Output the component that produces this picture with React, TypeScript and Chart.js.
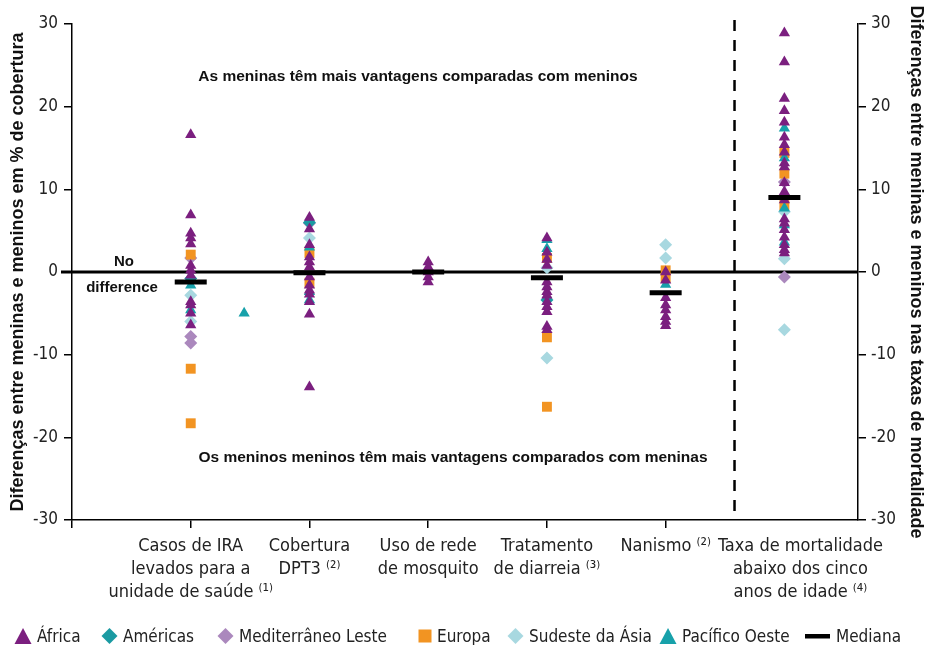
import React, { useEffect, useRef } from 'react';
import { Chart, registerables } from 'chart.js';
Chart.register(...registerables);

const categories: string[][] = [
  ['Casos de IRA', 'levados para a', 'unidade de saúde ⁽¹⁾'],
  ['Cobertura', 'DPT3 ⁽²⁾'],
  ['Uso de rede', 'de mosquito'],
  ['Tratamento', 'de diarreia ⁽³⁾'],
  ['Nanismo ⁽²⁾'],
  ['Taxa de mortalidade', 'abaixo dos cinco', 'anos de idade ⁽⁴⁾'],
];
const yTicks = [-30, -20, -10, 0, 10, 20, 30];

// values per category (index 0..5)
const africa: number[][] = [
  [16.6, 6.9, 4.7, 4.1, 3.4, 0.8, 0.2, -0.4, -3.6, -4.0, -5.0, -6.4],
  [6.6, 5.2, 3.3, 1.8, 1.2, 0.6, -0.6, -1.6, -2.2, -2.7, -3.6, -5.1, -13.9],
  [1.2, 0.6, 0, -0.6, -1.2],
  [4.1, 2.4, 1.5, 0.8, -1.2, -1.8, -2.4, -2.8, -3.6, -4.2, -4.8, -6.6, -7.0],
  [0, -1.0, -3.1, -4.0, -4.6, -5.4, -6.0, -6.5],
  [28.9, 25.4, 21.0, 19.5, 18.1, 16.3, 15.4, 14.5, 13.2, 12.7, 10.8, 9.7, 8.7, 6.4, 5.9, 5.1, 4.2, 3.3, 2.7, 2.3],
];
const americas: number[][] = [[-0.8], [6.0], [], [-3.4], [], []];
const mediterraneo: number[][] = [[1.7, -7.8, -8.6], [5.9], [], [], [], [10.9, -0.6]];
const europa: number[][] = [[2.1, -11.7, -18.3], [2.3, -1.3], [], [1.7, -7.9, -16.3], [0.2, -0.7], [14.4, 11.9, 8.1]];
const sudeste: number[][] = [[-2.8, -6.0], [4.1], [], [0.5, -10.4], [3.3, 1.7], [7.3, 1.6, -7.0]];
const pacifico: number[][] = [[-1.6, -4.6], [3.0, -2.4, -3.4], [], [3.9, 2.8], [-1.5], [17.4, 13.8, 7.7, 5.7, 3.6]];
const pacificoExtraX = [1.45];
const pacificoExtraY = [-5.0];
const medians = [-1.2, -0.1, 0, -0.7, -2.5, 9.0];

const COLORS = {
  africa: '#7b1f7f',
  americas: '#1a9aa2',
  med: '#ab88bd',
  europa: '#f29422',
  sudeste: '#a8d8e0',
  pacifico: '#17a1aa',
};

const FONT = "'Liberation Sans Narrow', 'DejaVu Sans Condensed', 'Liberation Sans', Arial, sans-serif";
const BOLD = "'Liberation Sans', Arial, sans-serif";

const toPts = (arr: number[][]) => arr.flatMap((vals, i) => vals.map((v) => ({ x: i + 1, y: v })));

// x positions of the category-axis ticks; the last label sits a little right of its column
const xTickValues = [0, 1, 2, 3, 4, 5, 6.135];

const legendItems = [
  { label: 'África', color: COLORS.africa, shape: 'tri', left: 14 },
  { label: 'Américas', color: COLORS.americas, shape: 'dia', left: 101 },
  { label: 'Mediterrâneo Leste', color: COLORS.med, shape: 'dia', left: 217 },
  { label: 'Europa', color: COLORS.europa, shape: 'sq', left: 418 },
  { label: 'Sudeste da Ásia', color: COLORS.sudeste, shape: 'dia', left: 507 },
  { label: 'Pacífico Oeste', color: COLORS.pacifico, shape: 'tri', left: 659 },
  { label: 'Mediana', color: '#000', shape: 'line', left: 805 },
];

function Marker({ shape, color }: { shape: string; color: string }) {
  if (shape === 'tri') return <svg width="18" height="18"><polygon points="9,1 17.5,17 0.5,17" fill={color} /></svg>;
  if (shape === 'dia') return <svg width="17" height="18"><polygon points="8.5,1 16.5,9 8.5,17 0.5,9" fill={color} /></svg>;
  if (shape === 'sq') return <svg width="14" height="18"><rect x="0.5" y="2.5" width="13" height="13" fill={color} /></svg>;
  return <svg width="26" height="18"><rect x="0" y="7" width="25" height="4.5" fill={color} /></svg>;
}

const overlayPlugin = {
  id: 'overlay',
  beforeDatasetsDraw(chart: any) {
    const { ctx, chartArea, scales } = chart;
    const y0 = scales.y.getPixelForValue(0);
    ctx.save();
    ctx.strokeStyle = '#000';
    ctx.lineWidth = 3;
    ctx.beginPath();
    ctx.moveTo(61, y0);
    ctx.lineTo(chartArea.right, y0);
    ctx.stroke();
    const xd = scales.x.getPixelForValue(5.58);
    ctx.lineWidth = 2.5;
    ctx.setLineDash([11, 9]);
    ctx.beginPath();
    ctx.moveTo(xd, chartArea.top - 4);
    ctx.lineTo(xd, chartArea.bottom);
    ctx.stroke();
    ctx.restore();
  },
  afterDraw(chart: any) {
    const { ctx, scales } = chart;
    ctx.save();
    ctx.fillStyle = '#111';
    ctx.font = `bold 15.5px ${BOLD}`;
    ctx.textAlign = 'center';
    ctx.textBaseline = 'middle';
    ctx.fillText('As meninas têm mais vantagens comparadas com meninos', 418, scales.y.getPixelForValue(23.6));
    ctx.fillText('Os meninos meninos têm mais vantagens comparados com meninas', 453, scales.y.getPixelForValue(-22.5));
    ctx.font = `bold 15px ${BOLD}`;
    ctx.fillText('No', 124, scales.y.getPixelForValue(1.2));
    ctx.fillText('difference', 122, scales.y.getPixelForValue(-1.9));
    ctx.restore();
  },
};

export default function App() {
  const ref = useRef<HTMLCanvasElement | null>(null);
  useEffect(() => {
    document.body.style.margin = '0';
    const canvas = ref.current!;
    const ptBase = { borderWidth: 0, pointHoverRadius: 7, showLine: false };
    const chart = new Chart(canvas, {
      type: 'scatter',
      data: {
        datasets: [
          { label: 'Mediana', data: medians.map((m, i) => ({ x: i + 1, y: m })), pointStyle: 'line', radius: 16, borderWidth: 5, borderColor: '#000', backgroundColor: '#000', showLine: false } as any,
          { label: 'África', data: toPts(africa), pointStyle: 'triangle', radius: 6.5, backgroundColor: COLORS.africa, borderColor: COLORS.africa, ...ptBase },
          { label: 'Pacífico Oeste', data: [...toPts(pacifico), ...pacificoExtraX.map((x, i) => ({ x, y: pacificoExtraY[i] }))], pointStyle: 'triangle', radius: 6.5, backgroundColor: COLORS.pacifico, borderColor: COLORS.pacifico, ...ptBase },
          { label: 'Américas', data: toPts(americas), pointStyle: 'rectRot', radius: 6.5, backgroundColor: COLORS.americas, borderColor: COLORS.americas, ...ptBase },
          { label: 'Europa', data: toPts(europa), pointStyle: 'rect', radius: 7, backgroundColor: COLORS.europa, borderColor: COLORS.europa, ...ptBase },
          { label: 'Mediterrâneo Leste', data: toPts(mediterraneo), pointStyle: 'rectRot', radius: 6.5, backgroundColor: COLORS.med, borderColor: COLORS.med, ...ptBase },
          { label: 'Sudeste da Ásia', data: toPts(sudeste), pointStyle: 'rectRot', radius: 6.5, backgroundColor: COLORS.sudeste, borderColor: COLORS.sudeste, ...ptBase },
        ],
      },
      options: {
        responsive: false,
        animation: false,
        devicePixelRatio: 1,
        layout: { padding: { top: 24, left: 0, right: 0, bottom: 0 } },
        plugins: { legend: { display: false }, tooltip: { enabled: false } },
        scales: {
          x: {
            type: 'linear',
            min: 0,
            max: 6.62,
            afterBuildTicks: (s: any) => { s.ticks = xTickValues.map((v) => ({ value: v })); },
            afterFit: (s: any) => { s.height = 125; },
            ticks: {
              autoSkip: false,
              maxRotation: 0,
              padding: 7,
              color: '#222',
              font: { family: FONT, size: 18, lineHeight: 1.28 },
              callback: (v: any) => (v === 0 ? '' : v > 5.5 ? categories[5] : categories[Math.round(v) - 1]),
            },
            grid: {
              drawOnChartArea: false,
              drawTicks: true,
              tickLength: 8,
              lineWidth: 1.5,
              color: (c: any) => (c.tick && c.tick.value > 5.5 ? 'rgba(0,0,0,0)' : '#000'),
            },
            border: { display: true, color: '#000', width: 1.5 },
          },
          y: {
            type: 'linear',
            position: 'left',
            min: -30,
            max: 30,
            afterBuildTicks: (s: any) => { s.ticks = yTicks.map((v) => ({ value: v })); },
            afterFit: (s: any) => { s.width = 72; },
            ticks: { padding: 6, color: '#222', font: { family: FONT, size: 17 } },
            grid: { drawOnChartArea: false, drawTicks: true, tickLength: 8, color: '#000', lineWidth: 1.5 },
            border: { display: true, color: '#000', width: 1.5 },
            title: {
              display: true,
              text: 'Diferenças entre meninas e meninos em % de cobertura',
              color: '#111',
              font: { family: BOLD, size: 18, weight: 'bold' },
              padding: { top: 7, bottom: 0 },
            },
          },
          y2: {
            type: 'linear',
            position: 'right',
            min: -30,
            max: 30,
            afterBuildTicks: (s: any) => { s.ticks = yTicks.map((v) => ({ value: v })); },
            afterFit: (s: any) => { s.width = 70; },
            ticks: { padding: 5, color: '#222', font: { family: FONT, size: 17 } },
            grid: { drawOnChartArea: false, drawTicks: true, tickLength: 8, color: '#000', lineWidth: 1.5 },
            border: { display: true, color: '#000', width: 1.5 },
            title: {
              display: true,
              text: 'Diferenças entre meninas e meninos nas taxas de mortalidade',
              color: '#111',
              font: { family: BOLD, size: 18, weight: 'bold' },
              padding: { top: 1, bottom: 0 },
            },
          },
        },
      } as any,
      plugins: [overlayPlugin],
    });
    return () => chart.destroy();
  }, []);

  return (
    <div style={{ position: 'relative', width: 928, height: 645, background: '#fff', overflow: 'hidden' }}>
      <canvas ref={ref} width={928} height={645} style={{ display: 'block', width: 928, height: 645 }} />
      {legendItems.map((it) => (
        <div key={it.label} style={{ position: 'absolute', left: it.left, top: 626, display: 'flex', alignItems: 'center', gap: 5, fontFamily: FONT, fontSize: 17, color: '#222', lineHeight: '20px', whiteSpace: 'nowrap' }}>
          <Marker shape={it.shape} color={it.color} />
          <span>{it.label}</span>
        </div>
      ))}
    </div>
  );
}
